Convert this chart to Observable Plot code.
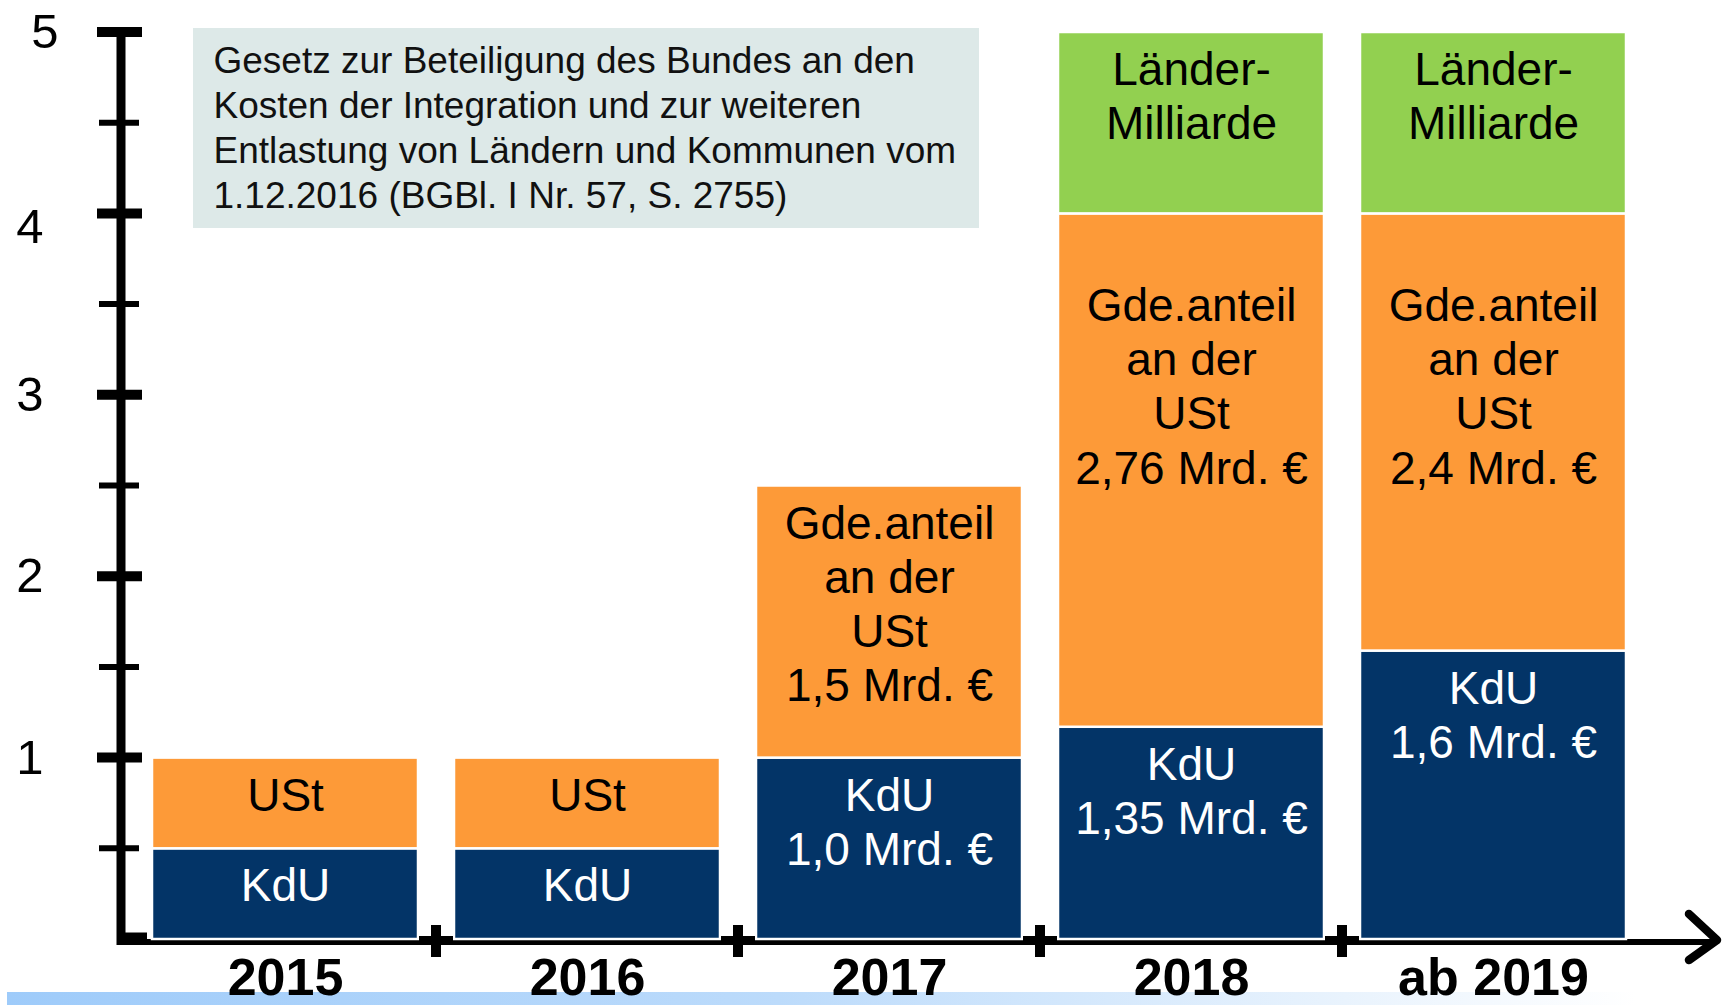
<!DOCTYPE html>
<html><head><meta charset="utf-8">
<script src="https://cdn.jsdelivr.net/npm/d3@7"></script>
<script src="https://cdn.jsdelivr.net/npm/@observablehq/plot@0.6"></script>
<style>html,body{margin:0;padding:0;background:#fff;overflow:hidden;}</style>
</head><body><div id="chart"></div>
<script>
// ---- data ----
const years = ["2015", "2016", "2017", "2018", "ab 2019"];
const kdu = [0.5, 0.5, 1.0, 1.17, 1.59];
const ust = [0.5, 0.5, 1.5, 2.83, 2.41];
const laender = [0, 0, 0, 1.0, 1.0];
const kduLabels = ["KdU", "KdU", "KdU\n1,0 Mrd. €", "KdU\n1,35 Mrd. €", "KdU\n1,6 Mrd. €"];
const ustLabels = ["USt", "USt", "Gde.anteil\nan der\nUSt\n1,5 Mrd. €", "\nGde.anteil\nan der\nUSt\n2,76 Mrd. €", "\nGde.anteil\nan der\nUSt\n2,4 Mrd. €"];
const laenderLabels = ["", "", "", "Länder-\nMilliarde", "Länder-\nMilliarde"];
const seriesNames = ["KdU", "USt", "Länder-Milliarde"];
const seriesColors = ["#033467", "#fd9a38", "#92d050"];
const majorTicks = [1, 2, 3, 4, 5];
const minorTicks = [0.5, 1.5, 2.5, 3.5, 4.5];
const noteText = "Gesetz zur Beteiligung des Bundes an den\nKosten der Integration und zur weiteren\nEntlastung von Ländern und Kommunen vom\n1.12.2016 (BGBl. I Nr. 57, S. 2755)";

// ---- table built from arrays ----
const rows = [];
years.forEach((yr, i) => {
  let top = 0;
  [[kdu, kduLabels], [ust, ustLabels], [laender, laenderLabels]].forEach(([vals, labs], s) => {
    if (vals[i] > 0) {
      top += vals[i];
      rows.push({year: yr, series: seriesNames[s], value: vals[i], label: labs[i], top});
    }
  });
});

const FONT = "'Liberation Sans', Arial, Helvetica, sans-serif";

function decorUnder(index, scales, values, dims) {
  const {x, y} = scales;
  const g = d3.create("svg:g");
  const W = dims.width;
  const y0 = y(0);
  const ax = dims.marginLeft - 12;
  // bottom light-blue strip
  const grad = g.append("defs").append("linearGradient").attr("id", "stripGrad").attr("x1", "0").attr("x2", "1").attr("y1", "0").attr("y2", "0");
  grad.append("stop").attr("offset", "0").attr("stop-color", "#9ecbfa");
  grad.append("stop").attr("offset", "0.45").attr("stop-color", "#bcdbfb");
  grad.append("stop").attr("offset", "0.78").attr("stop-color", "#e9f3fd");
  grad.append("stop").attr("offset", "0.95").attr("stop-color", "#ffffff");
  g.append("rect").attr("x", 7).attr("y", dims.height - 13).attr("width", W - 7).attr("height", 13).attr("fill", "url(#stripGrad)");
  // annotation box
  g.append("rect").attr("x", dims.marginLeft + 60).attr("y", dims.marginTop - 4).attr("width", 786).attr("height", 200).attr("fill", "#dde9e8");
  // y axis line
  g.append("line").attr("x1", ax).attr("x2", ax).attr("y1", y(5) - 5).attr("y2", y0 + 6).attr("stroke", "black").attr("stroke-width", 9);
  // x axis line
  g.append("line").attr("x1", ax).attr("x2", W - 10).attr("y1", y0 + 3).attr("y2", y0 + 3).attr("stroke", "black").attr("stroke-width", 6);
  // zero tick
  g.append("line").attr("x1", ax).attr("x2", ax + 26).attr("y1", y0 - 2).attr("y2", y0 - 2).attr("stroke", "black").attr("stroke-width", 9);
  // major ticks
  for (const t of majorTicks) {
    g.append("line").attr("x1", dims.marginLeft - 36).attr("x2", dims.marginLeft + 9).attr("y1", y(t)).attr("y2", y(t)).attr("stroke", "black").attr("stroke-width", 10);
  }
  for (const t of minorTicks) {
    g.append("line").attr("x1", dims.marginLeft - 34).attr("x2", dims.marginLeft + 6).attr("y1", y(t)).attr("y2", y(t)).attr("stroke", "black").attr("stroke-width", 6);
  }
  return g.node();
}

function decorOver(index, scales, values, dims) {
  const {x, y} = scales;
  const g = d3.create("svg:g");
  const W = dims.width;
  const y0 = y(0);
  const bw = x.bandwidth ? x.bandwidth() : 0;
  for (let i = 1; i < years.length; ++i) {
    const bx = (x(years[i - 1]) + bw + x(years[i])) / 2;
    g.append("line").attr("x1", bx).attr("x2", bx).attr("y1", y0 - 14).attr("y2", y0 + 18).attr("stroke", "black").attr("stroke-width", 10);
    g.append("line").attr("x1", bx - 17).attr("x2", bx + 17).attr("y1", y0 + 1).attr("y2", y0 + 1).attr("stroke", "black").attr("stroke-width", 8);
  }
  // arrow head
  g.append("polyline")
    .attr("points", `${W - 33},${y0 - 25} ${W - 5},${y0 + 1} ${W - 33},${y0 + 21}`)
    .attr("fill", "none").attr("stroke", "black").attr("stroke-width", 8.5)
    .attr("stroke-linecap", "round").attr("stroke-linejoin", "round");
  return g.node();
}

const chart = Plot.plot({
  width: 1722,
  height: 1005,
  marginLeft: 133,
  marginRight: 78,
  marginTop: 32,
  marginBottom: 66,
  style: {fontFamily: FONT, background: "white", overflow: "visible"},
  x: {domain: years, axis: null, paddingInner: 0.12, paddingOuter: 0.06},
  y: {domain: [0, 5], axis: null},
  color: {domain: seriesNames, range: seriesColors},
  marks: [
    decorUnder,
    Plot.barY(rows, {x: "year", y: "value", fill: "series", stroke: "white", strokeWidth: 2.5}),
    decorOver,
    Plot.text(rows.filter(d => d.series === "KdU"), {x: "year", y: "top", text: "label", fill: "white", fontSize: 46, lineAnchor: "top", dy: 14, lineHeight: 1.18}),
    Plot.text(rows.filter(d => d.series !== "KdU"), {x: "year", y: "top", text: "label", fill: "black", fontSize: 46, lineAnchor: "top", dy: 14, lineHeight: 1.18}),
    Plot.text([noteText], {frameAnchor: "top-left", dx: 80, dy: 8, textAnchor: "start", lineAnchor: "top", fontSize: 37, lineHeight: 1.22, fill: "#111"}),
    Plot.text(majorTicks.filter(d => d <= 3), {y: d => d, text: d => String(d), frameAnchor: "left", textAnchor: "end", dx: -90, fontSize: 49, lineAnchor: "middle", fill: "black"}),
    Plot.text(majorTicks.filter(d => d === 4), {y: d => d, text: d => String(d), frameAnchor: "left", textAnchor: "end", dx: -90, dy: 13, fontSize: 49, lineAnchor: "middle", fill: "black"}),
    Plot.text(majorTicks.filter(d => d === 5), {y: d => d, text: d => String(d), frameAnchor: "left", textAnchor: "end", dx: -75, fontSize: 49, lineAnchor: "middle", fill: "black"}),
    Plot.text(years, {x: d => d, text: d => d, frameAnchor: "bottom", dy: 39, fontSize: 52, fontWeight: "bold", lineAnchor: "middle", fill: "black"})
  ]
});
document.getElementById("chart").appendChild(chart);
</script>
</body></html>
